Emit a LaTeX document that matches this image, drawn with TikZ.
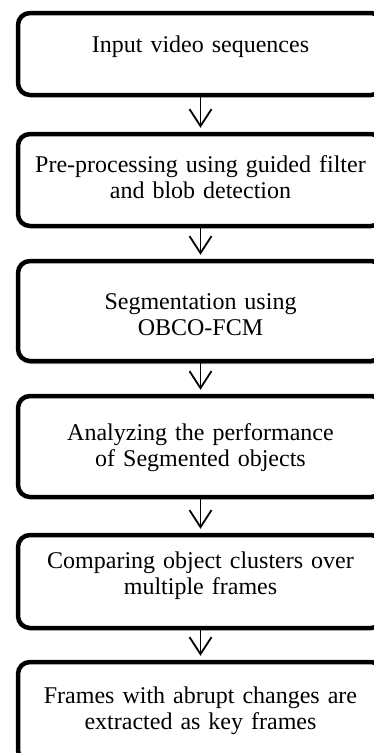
\documentclass[tikz,border=0pt]{standalone}
\usepackage{fontspec}
\setmainfont{Liberation Serif}
\usetikzlibrary{arrows.meta,shadows}
\tikzset{
  stepbox/.style={draw=black, line width=4.5pt, rounded corners=12pt, minimum width=365pt, inner sep=0pt, fill=white},
  steptext/.style={anchor=base, inner sep=0pt, text width=350pt, align=center, font=\fontsize{24}{26.5}\selectfont},
  flow/.style={line width=1.8pt, -{Straight Barb[length=17pt, width=22pt, line width=1.8pt]}, shorten >=4pt},
}
\begin{document}
\begin{tikzpicture}[x=1pt,y=-1pt]
\useasboundingbox (0,0) rectangle (374,753);
\clip (0,0) rectangle (374,753);
\node[stepbox, minimum height=82pt] (b1) at (200.5,54) {};
\node[stepbox, minimum height=92pt] (b2) at (200.5,180) {};
\node[stepbox, minimum height=100pt, drop shadow={shadow xshift=0.5pt, shadow yshift=-3pt, fill=gray!60, opacity=1}] (b3) at (200.5,311) {};
\node[stepbox, minimum height=101pt] (b4) at (200.5,446.5) {};
\node[stepbox, minimum height=93pt] (b5) at (200.5,581.5) {};
\node[stepbox, minimum height=100pt] (b6) at (200.5,712) {};
\node[steptext] (t1) at (200.5,52) {Input video sequences};
\node[steptext] (t2) at (200.5,172) {Pre-processing using guided filter\\and blob detection};
\node[steptext] (t3) at (200.5,309) {Segmentation using\\OBCO-FCM};
\node[steptext] (t4) at (200.5,440) {Analyzing the performance\\of Segmented objects};
\node[steptext] (t5) at (200.5,568) {Comparing object clusters over\\multiple frames};
\node[steptext] (t6) at (200.5,703) {Frames with abrupt changes are\\extracted as key frames};
\draw[flow] (b1.south) -- (b2.north);
\draw[flow] (b2.south) -- (b3.north);
\draw[flow] (b3.south) -- (b4.north);
\draw[flow] (b4.south) -- (b5.north);
\draw[flow] (b5.south) -- (b6.north);
\end{tikzpicture}
\end{document}
